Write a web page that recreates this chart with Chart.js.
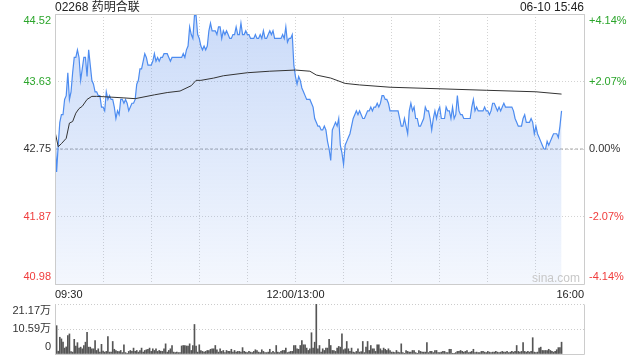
<!DOCTYPE html>
<html>
<head>
<meta charset="utf-8">
<script src="https://cdn.jsdelivr.net/npm/chart.js@4/dist/chart.umd.min.js"></script>
<style>
  body { margin: 0; width: 640px; height: 360px; background: #fff; position: relative; overflow: hidden;
         font-family: "Liberation Sans", "Noto Sans CJK SC", sans-serif; }
  #title { position: absolute; left: 55px; top: 0; font-size: 12px; line-height: 14px; color: #222; }
  #stamp { position: absolute; right: 56px; top: 0; font-size: 12px; line-height: 14px; color: #222; }
  #mark  { position: absolute; left: 532px; top: 271px; font-size: 12px; color: #c8c8c8; }
  #priceBox { position: absolute; left: 0; top: 0; }
  #volBox { position: absolute; left: 0; top: 296px; }
</style>
</head>
<body>
<div id="priceBox"><canvas id="priceChart" width="640" height="300"></canvas></div>
<div id="volBox"><canvas id="volChart" width="640" height="64"></canvas></div>
<div id="title">02268 药明合联</div>
<div id="stamp">06-10 15:46</div>
<div id="mark">sina.com</div>
<script>
// datos del grafico (un valor por minuto)
const prevClose = 42.75;
const priceMin = 40.98;
const priceMax = 44.52;
const priceTickLabels = ['44.52', '43.63', '42.75', '41.87', '40.98']; // de arriba a abajo
const pctTickLabels = ['+4.14%', '+2.07%', '0.00%', '-2.07%', '-4.14%'];
const tickColors = ['#2ba52b', '#2ba52b', '#333333', '#f03c3c', '#f03c3c'];
const timeLabels = { 0: '09:30', 150: '12:00/13:00', 330: '16:00' };
const sessionMinutes = 330;

// 09:30 - 11:59
const amPrice = [
  42.95, 42.45, 42.80, 43.10, 43.20, 43.20, 43.40, 43.45, 43.75, 43.40,
  43.50, 43.75, 43.95, 43.95, 44.05, 43.95, 43.65, 43.80, 43.95, 43.95,
  43.70, 44.05, 43.85, 43.65, 43.60, 43.50, 43.50, 43.45, 43.45, 43.30,
  43.30, 43.25, 43.50, 43.40, 43.45, 43.40, 43.40, 43.30, 43.15, 43.25,
  43.20, 43.40, 43.40, 43.35, 43.40, 43.35, 43.25, 43.30, 43.35, 43.35,
  43.40, 43.60, 43.65, 43.80, 43.80, 43.90, 44.00, 43.95, 43.85, 43.85,
  43.85, 43.90, 44.00, 43.90, 43.95, 43.90, 43.95, 43.95, 44.00, 44.00,
  44.00, 43.95, 43.90, 43.95, 43.95, 43.95, 43.95, 43.95, 43.95, 43.95,
  44.00, 43.95, 44.05, 44.10, 44.35, 44.25, 44.20, 44.50, 44.50, 44.25,
  44.20, 44.10, 44.05, 44.10, 44.05, 44.10, 44.30, 44.40, 44.30, 44.30,
  44.30, 44.25, 44.35, 44.35, 44.20, 44.30, 44.25, 44.30, 44.25, 44.20,
  44.20, 44.25, 44.25, 44.35, 44.25, 44.25, 44.40, 44.25, 44.25, 44.30,
  44.25, 44.25, 44.20, 44.20, 44.20, 44.25, 44.20, 44.20, 44.25, 44.20,
  44.30, 44.20, 44.20, 44.25, 44.30, 44.25, 44.30, 44.20, 44.20, 44.20,
  44.20, 44.20, 44.25, 44.20, 44.35, 44.15, 44.20, 44.20, 44.25, 43.85
];
// 13:00 - 15:46
const pmPrice = [
  43.70, 43.60, 43.70, 43.65, 43.55, 43.50, 43.45, 43.40, 43.40, 43.40,
  43.35, 43.30, 43.15, 43.10, 43.05, 43.05, 43.00, 43.00, 43.05, 43.00,
  42.85, 42.75, 42.60, 43.00, 43.05, 43.10, 43.05, 43.15, 42.80, 42.70,
  42.55, 42.80, 42.85, 42.90, 42.95, 43.05, 43.15, 43.20, 43.25, 43.20,
  43.25, 43.20, 43.15, 43.15, 43.20, 43.25, 43.25, 43.30, 43.25, 43.30,
  43.30, 43.35, 43.30, 43.35, 43.45, 43.45, 43.40, 43.40, 43.35, 43.25,
  43.25, 43.25, 43.25, 43.25, 43.25, 43.15, 43.05, 43.05, 43.15, 43.05,
  42.95, 43.25, 43.35, 43.25, 43.30, 43.15, 43.15, 43.05, 43.05, 43.10,
  43.15, 43.30, 43.25, 43.25, 43.15, 43.00, 43.15, 43.25, 43.15, 43.25,
  43.30, 43.15, 43.15, 43.15, 43.30, 43.25, 43.25, 43.15, 43.30, 43.15,
  43.20, 43.45, 43.25, 43.20, 43.20, 43.15, 43.15, 43.15, 43.15, 43.15,
  43.30, 43.40, 43.25, 43.30, 43.25, 43.25, 43.25, 43.25, 43.30, 43.25,
  43.25, 43.20, 43.25, 43.35, 43.35, 43.30, 43.25, 43.30, 43.25, 43.30,
  43.35, 43.30, 43.30, 43.30, 43.30, 43.30, 43.25, 43.15, 43.10, 43.05,
  43.05, 43.05, 43.15, 43.20, 43.10, 43.10, 43.10, 43.15, 43.10, 42.95,
  43.05, 42.95, 42.90, 42.85, 42.80, 42.75, 42.75, 42.85, 42.80, 42.85,
  42.90, 42.95, 42.95, 42.95, 42.90, 43.05, 43.25
];

// precio medio (minuto de sesion, valor)
const avgMinutes = [0, 2, 4, 7, 9, 11, 13, 15, 17, 20, 23, 26, 35, 43, 50, 62, 70, 78, 85, 88,
  91, 99, 105, 120, 134, 150, 159, 163, 172, 181, 190, 209, 269, 300, 316];
const avgPrice = [42.98, 42.78, 42.82, 42.89, 43.09, 43.11, 43.22, 43.28, 43.31, 43.40, 43.44,
  43.44, 43.43, 43.42, 43.41, 43.46, 43.49, 43.51, 43.58, 43.65, 43.65, 43.68, 43.71, 43.75,
  43.77, 43.785, 43.77, 43.72, 43.68, 43.61, 43.59, 43.56, 43.52, 43.50, 43.47];

// volumen en 万
const volMax = 21.17;
const volTickLabels = ['21.17万', '10.59万', '0'];
const amVolume = [
  7.1, 12.0, 1.2, 7.1, 6.4, 5.0, 2.5, 3.0, 7.8, 8.5,
  1.0, 0.8, 6.2, 3.4, 4.8, 2.5, 2.9, 2.2, 3.6, 5.0,
  9.2, 2.9, 2.9, 2.2, 2.2, 5.7, 1.5, 2.2, 0.8, 4.1,
  1.2, 0.8, 1.1, 7.4, 0.8, 0.8, 5.3, 2.0, 1.5, 1.1,
  1.0, 1.5, 0.6, 3.9, 0.6, 0.3, 1.1, 1.5, 1.1, 2.5,
  1.1, 1.5, 0.8, 1.5, 2.5, 0.8, 1.5, 1.8, 2.0, 2.5,
  1.1, 2.2, 1.5, 2.2, 1.1, 1.5, 1.2, 1.1, 2.2, 4.3,
  0.8, 1.5, 2.2, 3.6, 0.8, 0.6, 0.8, 0.6, 0.6, 3.4,
  3.6, 3.6, 3.4, 3.4, 4.3, 1.5, 3.6, 12.5, 3.4, 0.8,
  3.9, 1.5, 1.1, 0.8, 1.1, 1.5, 1.5, 2.0, 2.2, 2.2,
  3.6, 1.8, 0.8, 2.2, 1.1, 1.5, 0.6, 1.5, 1.1, 1.1,
  2.0, 0.8, 1.5, 0.8, 1.1, 1.1, 0.8, 2.7, 1.1, 0.8,
  0.6, 1.1, 0.8, 0.6, 1.1, 1.8, 1.5, 0.8, 0.6, 1.8,
  1.1, 0.6, 0.6, 0.8, 2.0, 0.6, 1.1, 0.6, 3.6, 0.8,
  0.6, 1.1, 1.5, 1.5, 2.5, 0.6, 0.8, 1.1, 1.1, 3.6
];
const pmVolume = [
  3.6, 2.2, 2.0, 3.6, 5.7, 3.9, 3.9, 2.5, 1.5, 2.2,
  9.0, 2.5, 5.0, 21.17, 2.2, 3.6, 0.8, 2.2, 1.5, 2.5,
  2.5, 6.2, 3.6, 1.5, 1.5, 1.1, 2.5, 3.2, 2.9, 8.5,
  1.8, 2.2, 5.3, 2.2, 1.1, 2.5, 0.8, 0.6, 1.1, 2.2,
  0.8, 1.0, 5.3, 0.6, 2.9, 5.3, 1.5, 3.6, 2.2, 2.2,
  1.1, 3.9, 3.9, 2.2, 1.5, 2.5, 2.0, 1.5, 2.2, 1.5,
  0.8, 0.8, 0.6, 1.5, 0.8, 0.6, 4.3, 0.6, 0.3, 1.5,
  1.1, 0.8, 0.8, 1.5, 1.5, 0.6, 0.3, 1.5, 1.1, 0.8,
  0.8, 0.8, 4.8, 0.6, 1.1, 1.1, 0.6, 1.5, 1.5, 0.6,
  0.6, 0.8, 1.1, 1.1, 0.6, 0.6, 2.0, 2.0, 0.3, 0.3,
  0.6, 1.1, 1.1, 1.5, 1.1, 0.8, 1.1, 1.5, 0.6, 0.8,
  1.1, 2.0, 0.6, 0.8, 0.6, 0.6, 1.1, 1.1, 0.8, 0.6,
  1.1, 0.8, 0.6, 0.8, 0.8, 1.1, 0.8, 0.6, 0.8, 1.1,
  0.8, 0.8, 1.1, 0.6, 0.8, 1.1, 0.8, 1.1, 3.6, 1.1,
  0.8, 1.1, 4.8, 1.1, 0.8, 1.1, 0.8, 1.1, 6.9, 0.8,
  0.6, 0.8, 2.5, 2.9, 1.5, 1.5, 1.5, 1.5, 2.0, 1.5,
  1.1, 0.8, 1.1, 1.8, 2.7, 2.7, 5.0
];

// ---- preparar series ----
const toPoints = (arr, start) => arr.map((v, i) => ({ x: start + i, y: v }));
const pricePoints = toPoints(amPrice, 0).concat(toPoints(pmPrice, amPrice.length));
const volumePoints = toPoints(amVolume, 0).concat(toPoints(pmVolume, amVolume.length));
const avgPoints = avgMinutes.map((m, i) => ({ x: m, y: avgPrice[i] }));
const priceTicks = [0, 1, 2, 3, 4].map(i => priceMin + i * (priceMax - priceMin) / 4);
const volTicks = [0, volMax / 2, volMax];

const fontFamily = '"Liberation Sans", "Noto Sans CJK SC", sans-serif';
Chart.defaults.font.family = fontFamily;
Chart.defaults.font.size = 11;
Chart.defaults.animation = false;

// etiqueta desplazada hacia dentro en los extremos del eje
function edgeLabel(text, index, count) {
  if (index === 0) return [text, ''];
  if (index === count - 1) return ['', text];
  return text;
}

// ancho fijo del eje y sin margen extra arriba/abajo
const fixWidth = w => s => {
  s.width = w;
  s.paddingTop = 0;
  s.paddingBottom = 0;
};

// marco del area de dibujo
const boxPlugin = {
  id: 'box',
  afterDraw(chart, args, opts) {
    const a = chart.chartArea;
    const ctx = chart.ctx;
    const l = a.left + 0.5, r = a.right + 0.5, t = a.top + 0.5, b = a.bottom + 0.5;
    ctx.save();
    ctx.strokeStyle = '#cccccc';
    ctx.lineWidth = 1;
    ctx.beginPath();
    if (opts.top) { ctx.moveTo(l, t); ctx.lineTo(r, t); }
    ctx.moveTo(l, t); ctx.lineTo(l, b);
    ctx.moveTo(r, t); ctx.lineTo(r, b);
    ctx.moveTo(l, b); ctx.lineTo(r, b);
    ctx.stroke();
    ctx.restore();
  }
};

const dotted = { display: false, dash: [1, 2] };

new Chart(document.getElementById('priceChart'), {
  type: 'line',
  data: {
    datasets: [
      {
        label: 'precio',
        data: pricePoints,
        borderColor: '#4d8cf0',
        borderWidth: 1.2,
        pointRadius: 0,
        tension: 0,
        fill: 'start',
        order: 2,
        backgroundColor: c => {
          const a = c.chart.chartArea;
          if (!a) return 'rgba(95,145,235,0.2)';
          const g = c.chart.ctx.createLinearGradient(0, a.top, 0, a.bottom);
          g.addColorStop(0, 'rgba(95,145,235,0.33)');
          g.addColorStop(1, 'rgba(95,145,235,0.07)');
          return g;
        }
      },
      {
        label: 'medio',
        data: avgPoints,
        borderColor: '#333333',
        borderWidth: 1,
        pointRadius: 0,
        tension: 0,
        fill: false,
        order: 1
      },
      {
        label: 'cierre anterior',
        data: [{ x: 0, y: prevClose }, { x: sessionMinutes, y: prevClose }],
        borderColor: '#a8a8a8',
        borderWidth: 1,
        borderDash: [3, 2],
        pointRadius: 0,
        fill: false,
        order: 3
      }
    ]
  },
  options: {
    responsive: false,
    layout: { padding: { top: 14, left: 0, right: 0, bottom: 0 } },
    plugins: { legend: { display: false }, tooltip: { enabled: false }, box: { top: true } },
    scales: {
      x: {
        type: 'linear',
        min: 0,
        max: sessionMinutes,
        afterFit: s => { s.height = 16; s.paddingLeft = 0; s.paddingRight = 0; },
        grid: { color: '#d3d3d3', drawTicks: false },
        border: dotted,
        ticks: {
          stepSize: 30,
          autoSkip: false,
          maxRotation: 0,
          align: 'inner',
          padding: 4,
          color: '#222',
          callback: v => timeLabels[v] ?? ''
        }
      },
      y: {
        position: 'left',
        min: priceMin,
        max: priceMax,
        afterFit: fixWidth(55),
        afterBuildTicks: s => { s.ticks = priceTicks.map(v => ({ value: v })); },
        grid: { color: '#d3d3d3', drawTicks: false },
        border: dotted,
        ticks: {
          padding: 4,
          autoSkip: false,
          color: c => tickColors[4 - c.index],
          callback: (v, i, t) => edgeLabel(priceTickLabels[4 - i], i, t.length)
        }
      },
      y2: {
        position: 'right',
        min: priceMin,
        max: priceMax,
        afterFit: fixWidth(56),
        afterBuildTicks: s => { s.ticks = priceTicks.map(v => ({ value: v })); },
        grid: { display: false, drawTicks: false },
        border: { display: false },
        ticks: {
          padding: 5,
          autoSkip: false,
          color: c => tickColors[4 - c.index],
          callback: (v, i, t) => edgeLabel(pctTickLabels[4 - i], i, t.length)
        }
      }
    }
  },
  plugins: [boxPlugin]
});

new Chart(document.getElementById('volChart'), {
  type: 'bar',
  data: {
    datasets: [{
      label: 'volumen',
      data: volumePoints,
      backgroundColor: '#555555',
      barThickness: 1
    }]
  },
  options: {
    responsive: false,
    layout: { padding: { top: 8, left: 0, right: 56, bottom: 6 } },
    plugins: { legend: { display: false }, tooltip: { enabled: false }, box: { top: false } },
    scales: {
      x: {
        type: 'linear',
        min: 0,
        max: sessionMinutes,
        offset: false,
        display: false,
        grid: { offset: false }
      },
      y: {
        min: 0,
        max: volMax,
        afterFit: fixWidth(55),
        afterBuildTicks: s => { s.ticks = volTicks.map(v => ({ value: v })); },
        grid: { color: '#cccccc', drawTicks: false },
        border: dotted,
        ticks: {
          padding: 4,
          autoSkip: false,
          color: '#333',
          callback: (v, i, t) => edgeLabel(volTickLabels[2 - i], i, t.length)
        }
      }
    }
  },
  plugins: [boxPlugin]
});
</script>
</body>
</html>
